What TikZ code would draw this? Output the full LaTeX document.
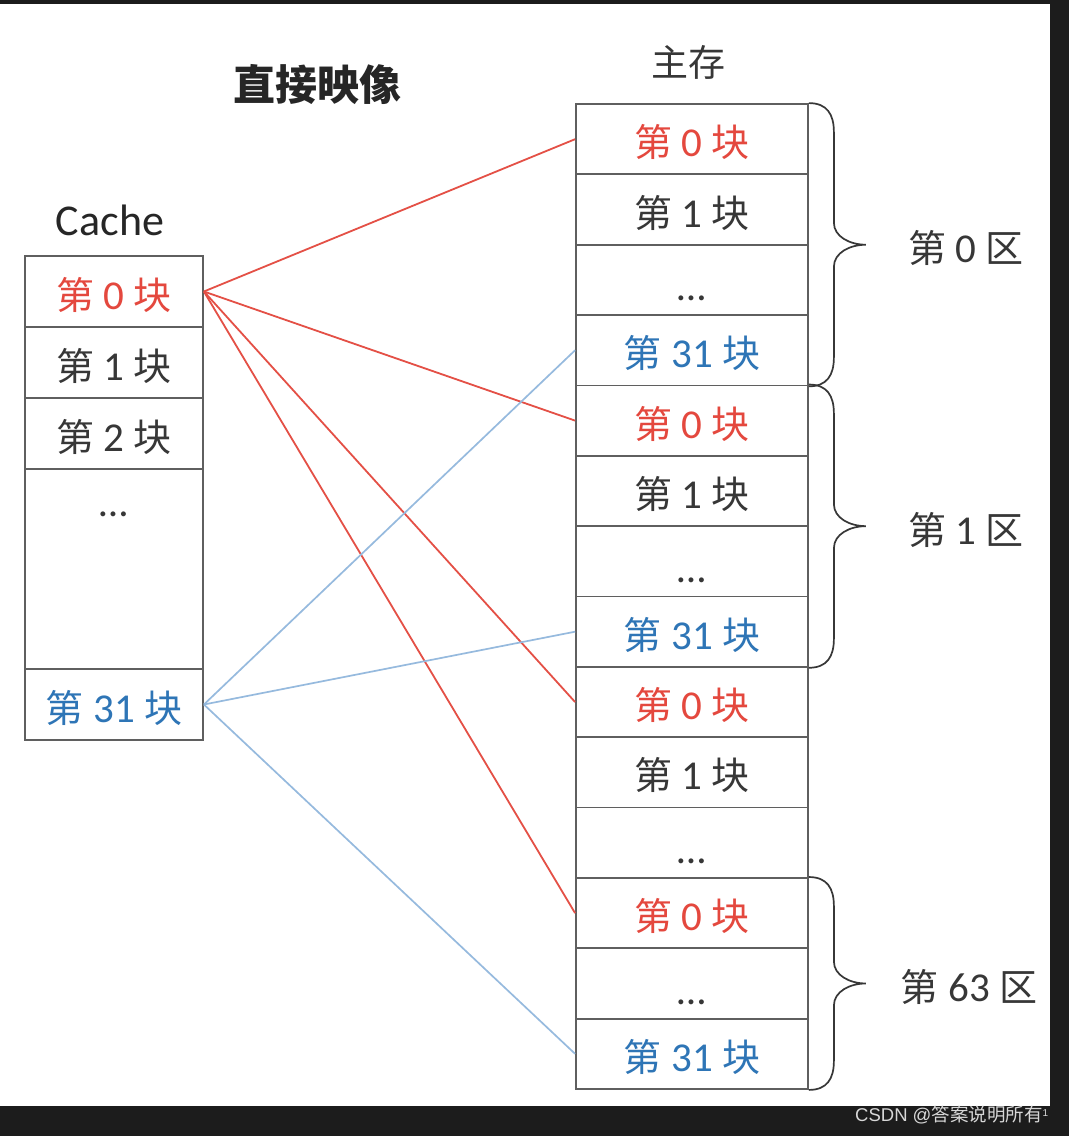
\documentclass[tikz,border=0pt]{standalone}
\usepackage{fontspec}
\setmainfont{Carlito}
\newfontfamily\cjk{Noto Sans CJK SC}
\newfontfamily\wmfont{Liberation Sans}
\usetikzlibrary{calc}
\definecolor{redtxt}{RGB}{228,72,62}
\definecolor{bluetxt}{RGB}{46,117,182}
\definecolor{redln}{RGB}{228,80,70}
\definecolor{blueln}{RGB}{150,186,222}
\definecolor{txtgray}{RGB}{55,55,55}
\definecolor{boxgray}{RGB}{95,95,95}
\definecolor{darkbg}{RGB}{28,28,28}
\definecolor{wmgray}{RGB}{215,215,215}
\newcommand\cjkbig{\cjk\fontsize{38}{42}\selectfont}
\newcommand\blk[1]{{\cjkbig 第} #1 {\cjkbig 块}}
\newcommand\zone[1]{{\cjkbig 第} #1 {\cjkbig 区}}
\newcommand\zbrace[2]{%
  \draw[brc] let \p1=(#1), \p2=(#2), \p3=($(#1)!.5!(#2)$) in
    (\p1) .. controls +(18pt,0pt) and +(0pt,18pt) .. (\x1+25pt,\y1-29pt)
    -- (\x1+25pt,\y3+22pt)
    .. controls +(0pt,-14pt) and +(-16pt,0pt) .. (\x1+57pt,\y3)
    .. controls +(-16pt,0pt) and +(0pt,14pt) .. (\x1+25pt,\y3-22pt)
    -- (\x1+25pt,\y2+29pt)
    .. controls +(0pt,-18pt) and +(18pt,0pt) .. (\p2);}
\begin{document}
\begin{tikzpicture}[x=1pt,y=-1pt,
  lbl/.style={inner sep=0pt, text height=37pt, text depth=2pt, text=txtgray,
    font=\fontsize{41}{45}\selectfont},
  dotlbl/.style={lbl, text height=44pt},
  cell/.style={lbl, draw=boxgray, line width=1.8pt, minimum width=232pt, minimum height=70.36pt},
  ccell/.style={lbl, draw=boxgray, line width=1.8pt, minimum width=178pt, minimum height=71pt},
  redt/.style={text=redtxt},
  bluet/.style={text=bluetxt},
  redline/.style={draw=redln, line width=1.8pt},
  blueline/.style={draw=blueln, line width=1.7pt},
  brc/.style={draw=txtgray, line width=1.7pt}]
\useasboundingbox (0,0) rectangle (1069,1136);
\fill[darkbg] (0,0) rectangle (1069,1136);
\fill[white] (0,4) rectangle (1050,1106);

% titles
\node[font=\cjk\bfseries\fontsize{42}{48}\selectfont, text=black!85] (title) at (317,85) {直接映像};
\node[font=\cjk\fontsize{37}{42}\selectfont, text=txtgray] (mtitle) at (688,62) {主存};
\node[font=\fontsize{44}{50}\selectfont, text=black!85] (ctitle) at (110,220) {Cache};

% cache
\node[ccell, redt] (c0) at (114,291.5) {\blk{0}};
\node[ccell] (c1) at (114,362.5) {\blk{1}};
\node[ccell] (c2) at (114,433.5) {\blk{2}};
\node[ccell, minimum height=200pt] (c3) at (114,569) {};
\node[dotlbl] (cdots) at (114,495) {…};
\node[ccell, bluet] (c31) at (114,704.5) {\blk{31}};

% main memory
\node[cell, redt] (m0) at (692,139.18) {\blk{0}};
\node[cell] (m1) at (692,209.54) {\blk{1}};
\node[cell, dotlbl] (m2) at (692,279.89) {…};
\node[cell, bluet] (m3) at (692,350.25) {\blk{31}};
\node[cell, redt] (m4) at (692,420.61) {\blk{0}};
\node[cell] (m5) at (692,490.96) {\blk{1}};
\node[cell, dotlbl] (m6) at (692,561.32) {…};
\node[cell, bluet] (m7) at (692,631.68) {\blk{31}};
\node[cell, redt] (m8) at (692,702.04) {\blk{0}};
\node[cell] (m9) at (692,772.39) {\blk{1}};
\node[cell, dotlbl] (m10) at (692,842.75) {…};
\node[cell, redt] (m11) at (692,913.11) {\blk{0}};
\node[cell, dotlbl] (m12) at (692,983.46) {…};
\node[cell, bluet] (m13) at (692,1053.82) {\blk{31}};

% connectors
\draw[redline] (c0.east) -- (m0.west);
\draw[redline] (c0.east) -- (m4.west);
\draw[redline] (c0.east) -- (m8.west);
\draw[redline] (c0.east) -- (m11.west);
\draw[blueline] (c31.east) -- (m3.west);
\draw[blueline] (c31.east) -- (m7.west);
\draw[blueline] (c31.east) -- (m13.west);

% braces
\zbrace{m0.north east}{m3.south east}
\zbrace{m4.north east}{m7.south east}
\zbrace{m11.north east}{m13.south east}

% zone labels
\node[lbl] (z0) at (966,245) {\zone{0}};
\node[lbl] (z1) at (966,527) {\zone{1}};
\node[lbl] (z63) at (969,984) {\zone{63}};

% watermark
\node[anchor=west, inner sep=0pt, text=wmgray, font=\wmfont\fontsize{18.5}{22}\selectfont] (wm) at (855,1115) {CSDN @{\cjk 答案说明所有}\raisebox{5pt}{\fontsize{10}{12}\selectfont 1}};
\end{tikzpicture}
\end{document}
